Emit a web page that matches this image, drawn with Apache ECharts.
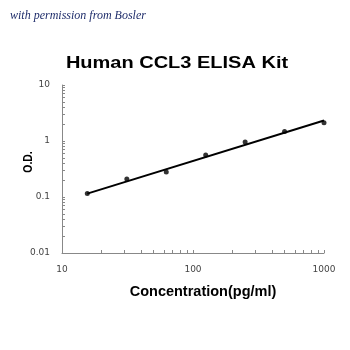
<!DOCTYPE html>
<html>
<head>
<meta charset="utf-8">
<script src="https://cdn.jsdelivr.net/npm/echarts@6/dist/echarts.min.js"></script>
<style>html,body{margin:0;padding:0;background:#fff}#c{width:350px;height:350px}</style>
</head>
<body>
<div id="c"></div>
<script>
const concentrations = [15.6, 31.25, 62.5, 125, 250, 500, 1000];
const odValues = [0.115, 0.209, 0.28, 0.56, 0.955, 1.48, 2.12];
const fitX = [15.6, 1000];
const fitY = [0.115, 2.33];
const xTickLabels = [10, 100, 1000];
const yTickLabels = [0.01, 0.1, 1, 10];
const xMinorTicks = [10,20,30,40,50,60,70,80,90,100,200,300,400,500,600,700,800,900,1000];
const yMinorTicks = [0.01,0.02,0.03,0.04,0.05,0.06,0.07,0.08,0.09,0.1,0.2,0.3,0.4,0.5,0.6,0.7,0.8,0.9,1,2,3,4,5,6,7,8,9,10];

const chart = echarts.init(document.getElementById('c'), null, {renderer: 'canvas'});
const axisFont = {fontFamily: 'DejaVu Sans', fontSize: 9, color: '#444'};
chart.setOption({
  animation: false,
  backgroundColor: '#fff',
  grid: {left: 62, right: 26, top: 85, bottom: 97},
  xAxis: {
    type: 'log', logBase: 10, min: 10, max: 1000,
    axisLine: {lineStyle: {color: '#888', width: 1}},
    axisTick: {show: true, inside: true, length: 3, lineStyle: {color: '#888'}, customValues: xMinorTicks},
    axisLabel: Object.assign({margin: 12, customValues: xTickLabels, formatter: v => String(v)}, axisFont),
    splitLine: {show: false}
  },
  yAxis: {
    type: 'log', logBase: 10, min: 0.01, max: 10,
    axisLine: {show: true, lineStyle: {color: '#888', width: 1}},
    axisTick: {show: true, inside: true, length: 3, lineStyle: {color: '#888'}, customValues: yMinorTicks},
    axisLabel: Object.assign({margin: 12, customValues: yTickLabels, formatter: v => String(v)}, axisFont),
    splitLine: {show: false}
  },
  series: [
    {
      type: 'line',
      data: fitX.map((x, i) => [x, fitY[i]]),
      showSymbol: false,
      symbol: 'none',
      lineStyle: {color: '#000', width: 2},
      z: 2
    },
    {
      type: 'scatter',
      data: concentrations.map((x, i) => [x, odValues[i]]),
      symbol: 'circle',
      symbolSize: 5,
      itemStyle: {color: '#000'},
      z: 3
    }
  ],
  graphic: [
    {type: 'text', left: 10, top: 10, style: {text: 'with permission from Bosler', font: 'italic 12px "Liberation Serif"', fill: '#1f2d6b'}},
    {type: 'text', x: 177, y: 64, scaleX: 1.25, scaleY: 1, style: {text: 'Human CCL3 ELISA Kit', font: 'bold 16px "Liberation Sans"', fill: '#000', align: 'center', verticalAlign: 'middle'}},
    {type: 'text', x: 203, y: 292, style: {text: 'Concentration(pg/ml)', font: 'bold 14.5px "Liberation Sans"', fill: '#000', align: 'center', verticalAlign: 'middle'}},
    {type: 'text', x: 28, y: 162, rotation: Math.PI / 2, scaleX: 0.8, style: {text: 'O.D.', font: 'bold 13px "Liberation Sans"', fill: '#000', align: 'center', verticalAlign: 'middle'}}
  ]
});
</script>
</body>
</html>
